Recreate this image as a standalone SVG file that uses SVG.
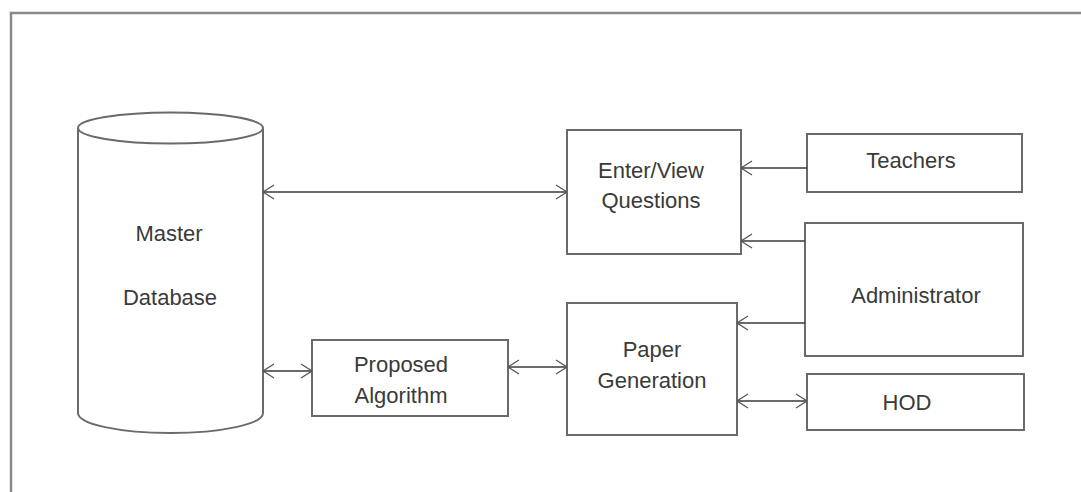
<svg xmlns="http://www.w3.org/2000/svg" width="1081" height="492" viewBox="0 0 1081 492">
<style>
.box{fill:#fff;stroke:#6a6a6a;stroke-width:2}
.frame{fill:none;stroke:#8a8a8a;stroke-width:2.5}
.lbl{font-family:"Liberation Sans",Arial,sans-serif;font-size:22px;fill:#3a3a3a;text-anchor:middle}
.con{fill:none;stroke:#3a3a3a;stroke-width:1.5}
</style>
<defs>
<marker id="arr" viewBox="0 0 12 16" refX="12" refY="8" markerWidth="12" markerHeight="16" markerUnits="userSpaceOnUse" orient="auto-start-reverse">
<path d="M1,1 L12,8 L1,15" fill="none" stroke="#555" stroke-width="1.3"/>
</marker>
</defs>
<rect width="1081" height="492" fill="#fff"/>
<path class="frame" d="M11,493 V13 H1082"/>
<g id="master-db">
<path class="box" d="M78,128 V413 A92.5,20 0 0 0 263,413 V128"/>
<ellipse class="box" cx="170.5" cy="128" rx="92.5" ry="15.5"/>
<text class="lbl" x="169" y="241">Master</text>
<text class="lbl" x="170" y="305">Database</text>
</g>
<g id="enter-view">
<rect class="box" x="567" y="130" width="174" height="124"/>
<text class="lbl" x="651" y="178">Enter/View</text>
<text class="lbl" x="651" y="208">Questions</text>
</g>
<g id="teachers">
<rect class="box" x="807" y="134" width="215" height="58"/>
<text class="lbl" x="911" y="168">Teachers</text>
</g>
<g id="administrator">
<rect class="box" x="805" y="223" width="218" height="133"/>
<text class="lbl" x="916" y="303">Administrator</text>
</g>
<g id="paper-generation">
<rect class="box" x="567" y="303" width="170" height="132"/>
<text class="lbl" x="652" y="357">Paper</text>
<text class="lbl" x="652" y="388">Generation</text>
</g>
<g id="proposed-algorithm">
<rect class="box" x="312" y="340" width="196" height="76"/>
<text class="lbl" x="401" y="372">Proposed</text>
<text class="lbl" x="401" y="403">Algorithm</text>
</g>
<g id="hod">
<rect class="box" x="807" y="374" width="217" height="56"/>
<text class="lbl" x="907" y="410">HOD</text>
</g>
<g id="connectors">
<line class="con" x1="263" y1="192" x2="567" y2="192" marker-start="url(#arr)" marker-end="url(#arr)"/>
<line class="con" x1="807" y1="168" x2="741" y2="168" marker-end="url(#arr)"/>
<line class="con" x1="805" y1="241" x2="741" y2="241" marker-end="url(#arr)"/>
<line class="con" x1="805" y1="323" x2="737" y2="323" marker-end="url(#arr)"/>
<line class="con" x1="263" y1="371" x2="312" y2="371" marker-start="url(#arr)" marker-end="url(#arr)"/>
<line class="con" x1="508" y1="367" x2="567" y2="367" marker-start="url(#arr)" marker-end="url(#arr)"/>
<line class="con" x1="737" y1="401" x2="807" y2="401" marker-start="url(#arr)" marker-end="url(#arr)"/>
</g>
</svg>
